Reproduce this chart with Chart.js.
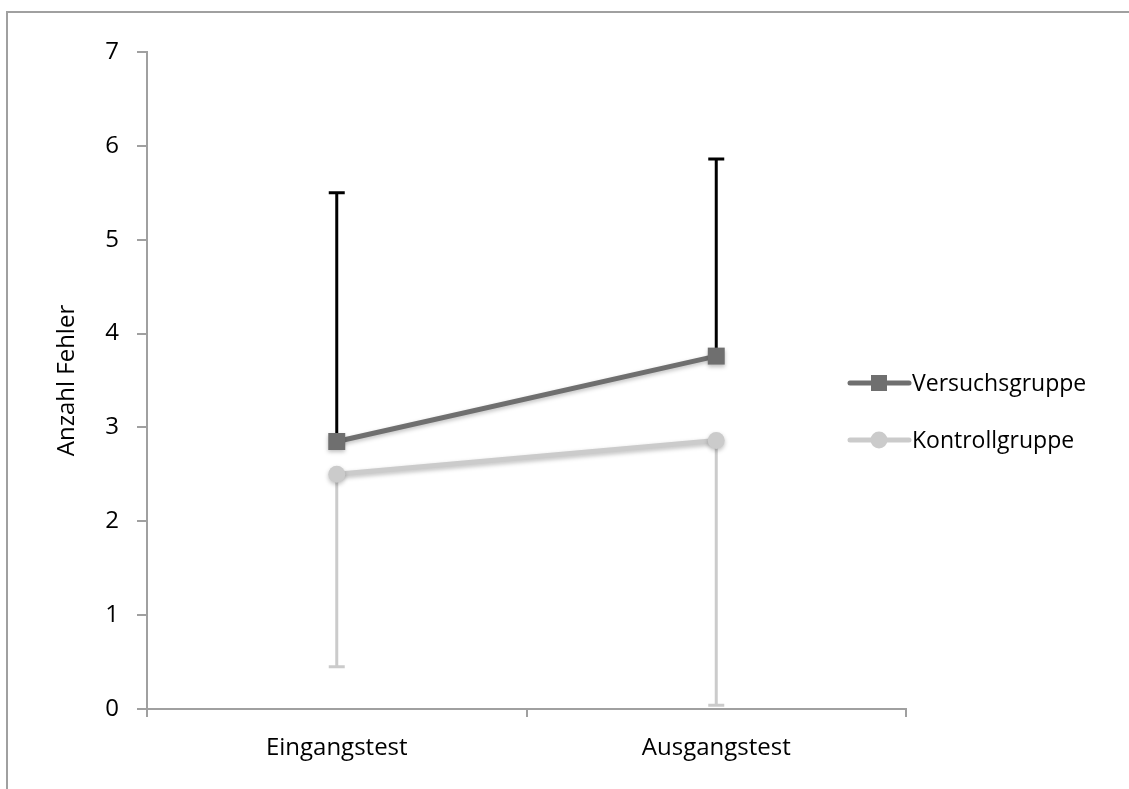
<!DOCTYPE html>
<html>
<head>
<meta charset="utf-8">
<script src="https://cdn.jsdelivr.net/npm/chart.js@4.4.1/dist/chart.umd.min.js"></script>
<style>
  html, body { margin: 0; padding: 0; background: #ffffff; }
  #wrap { position: relative; width: 1129px; height: 789px; overflow: hidden; }
  canvas { display: block; }
</style>
</head>
<body>
<div id="wrap"><canvas id="c" width="1129" height="789"></canvas></div>
<script>
// ---- data ----
const categories = ['Eingangstest', 'Ausgangstest'];
const seriesNames = ['Versuchsgruppe', 'Kontrollgruppe'];
const versuchMean = [2.85, 3.76];
const versuchSD = [2.65, 2.10];      // drawn upward
const kontrollMean = [2.50, 2.86];
const kontrollSD = [2.05, 2.82];     // drawn downward
const yTicks = [0, 1, 2, 3, 4, 5, 6, 7];

const FONT = '"Open Sans", "DejaVu Sans", sans-serif';
const darkGray = '#6f6f6f';
const lightGray = '#cbcbcb';
const axisGray = '#a0a0a0';

const errorBarsPlugin = {
  id: 'errorBars',
  beforeDatasetsDraw(chart) {
    const ctx = chart.ctx;
    const y = chart.scales.y;
    chart.data.datasets.forEach((ds, i) => {
      const meta = chart.getDatasetMeta(i);
      ds.errors.forEach((e, j) => {
        const pt = meta.data[j];
        const x = pt.x;
        const y0 = y.getPixelForValue(ds.data[j]);
        const y1 = y.getPixelForValue(ds.data[j] + ds.errDir * e);
        ctx.save();
        ctx.strokeStyle = ds.errColor;
        ctx.lineWidth = 3;
        ctx.beginPath();
        ctx.moveTo(x, y0);
        ctx.lineTo(x, y1);
        ctx.moveTo(x - 8, y1);
        ctx.lineTo(x + 8, y1);
        ctx.stroke();
        ctx.restore();
      });
    });
  },
  beforeDatasetDraw(chart) {
    const ctx = chart.ctx;
    ctx.save();
    ctx.shadowColor = 'rgba(0,0,0,0.25)';
    ctx.shadowBlur = 4;
    ctx.shadowOffsetY = 2;
  },
  afterDatasetDraw(chart) {
    chart.ctx.restore();
  }
};

const frameLegendPlugin = {
  id: 'frameLegend',
  beforeDraw(chart) {
    const ctx = chart.ctx;
    ctx.save();
    ctx.strokeStyle = axisGray;
    ctx.lineWidth = 2;
    ctx.strokeRect(7, 12, 1200, 900);
    ctx.restore();
  },
  afterDraw(chart) {
    const ctx = chart.ctx;
    const rows = [383, 440];
    chart.data.datasets.forEach((ds, i) => {
      const yy = rows[i];
      ctx.save();
      ctx.strokeStyle = ds.borderColor;
      ctx.lineWidth = 5;
      ctx.lineCap = 'round';
      ctx.beginPath();
      ctx.moveTo(850, yy);
      ctx.lineTo(909, yy);
      ctx.stroke();
      ctx.fillStyle = ds.borderColor;
      if (ds.pointStyle === 'rect') {
        ctx.fillRect(871, yy - 8, 16, 16);
      } else {
        ctx.beginPath();
        ctx.arc(879, yy, 8.5, 0, Math.PI * 2);
        ctx.fill();
      }
      ctx.fillStyle = '#000';
      ctx.font = '23px ' + FONT;
      ctx.textBaseline = 'middle';
      ctx.textAlign = 'left';
      ctx.fillText(ds.label, 912, yy + 1);
      ctx.restore();
    });
  }
};

new Chart(document.getElementById('c'), {
  type: 'line',
  data: {
    labels: categories,
    datasets: [
      {
        label: seriesNames[0],
        data: versuchMean,
        errors: versuchSD,
        errDir: 1,
        errColor: '#000000',
        borderColor: darkGray,
        backgroundColor: darkGray,
        borderWidth: 5,
        pointStyle: 'rect',
        pointRadius: 12,
        pointHoverRadius: 12,
        pointBorderWidth: 0
      },
      {
        label: seriesNames[1],
        data: kontrollMean,
        errors: kontrollSD,
        errDir: -1,
        errColor: lightGray,
        borderColor: lightGray,
        backgroundColor: lightGray,
        borderWidth: 5,
        pointStyle: 'circle',
        pointRadius: 8.5,
        pointHoverRadius: 8.5,
        pointBorderWidth: 0
      }
    ]
  },
  options: {
    responsive: false,
    animation: false,
    events: [],
    layout: { padding: { left: 0, top: 52, right: 223, bottom: 0 } },
    plugins: { legend: { display: false }, tooltip: { enabled: false } },
    scales: {
      x: {
        type: 'category',
        offset: true,
        grid: { offset: true, drawOnChartArea: false, color: axisGray, lineWidth: 2, tickLength: 8 },
        border: { color: axisGray, width: 2 },
        ticks: { color: '#000', font: { family: FONT, size: 24 }, padding: 17, maxRotation: 0 },
        afterFit: s => { s.height = 80; }
      },
      y: {
        min: 0,
        max: 7,
        afterBuildTicks: s => { s.ticks = yTicks.map(v => ({ value: v })); },
        grid: { drawOnChartArea: false, color: axisGray, lineWidth: 2, tickLength: 10 },
        border: { color: axisGray, width: 2 },
        ticks: { color: '#000', font: { family: FONT, size: 24 }, padding: 18 },
        title: { display: true, text: 'Anzahl Fehler', color: '#000', font: { family: FONT, size: 24 }, padding: { top: 53, bottom: 0 } },
        afterFit: s => { s.width = 147; }
      }
    }
  },
  plugins: [errorBarsPlugin, frameLegendPlugin]
});
</script>
</body>
</html>
